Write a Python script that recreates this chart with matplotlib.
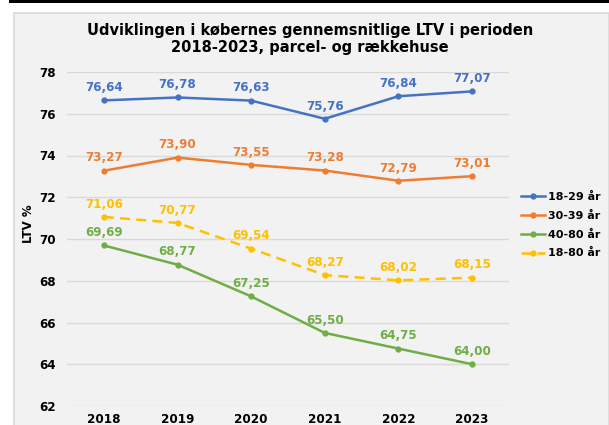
import matplotlib.pyplot as plt
from matplotlib.patches import Rectangle

# data
years = ["2018", "2019", "2020", "2021", "2022", "2023"]
ltv_18_29 = [76.64, 76.78, 76.63, 75.76, 76.84, 77.07]
ltv_30_39 = [73.27, 73.90, 73.55, 73.28, 72.79, 73.01]
ltv_40_80 = [69.69, 68.77, 67.25, 65.50, 64.75, 64.00]
ltv_18_80 = [71.06, 70.77, 69.54, 68.27, 68.02, 68.15]
labels = ["18-29 år", "30-39 år", "40-80 år", "18-80 år"]

colors = ["#4472C4", "#ED7D31", "#70AD47", "#FFC000"]
styles = ["-", "-", "-", "--"]
series = [ltv_18_29, ltv_30_39, ltv_40_80, ltv_18_80]

fig = plt.figure(figsize=(6.09, 4.25), dpi=100)
fig.patch.set_facecolor("white")

# black band on top and grey chart area
fig.patches.append(Rectangle((9 / 609, 1 - 3 / 425), 1, 3 / 425, transform=fig.transFigure,
                             facecolor="black", edgecolor="none", zorder=-10))
fig.patches.append(Rectangle((13.5 / 609, -0.05), 595 / 609, 1 - 13.5 / 425 + 0.05,
                             transform=fig.transFigure, facecolor="#F2F2F2",
                             edgecolor="#D9D9D9", linewidth=1.2, zorder=-10))

ax = fig.add_axes([67 / 609, 1 - 406 / 425, 442 / 609, 334 / 425])
ax.set_facecolor("none")

x = list(range(len(years)))
for vals, c, ls, lab in zip(series, colors, styles, labels):
    ax.plot(x, vals, color=c, linestyle=ls, linewidth=1.8, marker="o", markersize=3.5,
            label=lab, zorder=3, dashes=(4, 2.5) if ls == "--" else (None, None))
    for xi, v in zip(x, vals):
        ax.annotate(f"{v:.2f}".replace(".", ","), (xi, v), xytext=(0, 4.5),
                    textcoords="offset points", ha="center", va="bottom",
                    color=c, fontsize=9.5, fontweight="bold", fontstretch="condensed")

ax.set_xlim(-0.5, 5.5)
ax.set_ylim(62, 78)
ax.set_yticks(range(62, 79, 2))
ax.set_xticks(x)
ax.set_xticklabels(years)
ax.grid(axis="y", color="#D9D9D9", linewidth=1)
ax.set_axisbelow(True)
for s in ax.spines.values():
    s.set_visible(False)
ax.tick_params(length=0, labelsize=9.5)
ax.tick_params(axis="y", pad=8)
ax.tick_params(axis="x", pad=5)
for t in ax.get_xticklabels() + ax.get_yticklabels():
    t.set_fontweight("bold")
    t.set_fontstretch("condensed")

fig.text(28 / 609, 1 - 224 / 425, "LTV %", rotation=90, ha="center", va="center",
         fontsize=8.5, fontweight="bold")

fig.text(310 / 609, 1 - 39 / 425,
         "Udviklingen i købernes gennemsnitlige LTV i perioden\n2018-2023, parcel- og rækkehuse",
         ha="center", va="center", fontsize=10.5, fontweight="bold", linespacing=1.2)

leg = fig.legend(loc="center left", bbox_to_anchor=(521 / 609, 1 - 225 / 425), frameon=False,
                 prop={"weight": "bold", "size": 8}, handlelength=2.2,
                 handletextpad=0.2, labelspacing=0.8, borderpad=0, borderaxespad=0)

fig.savefig("out.png", dpi=100)
